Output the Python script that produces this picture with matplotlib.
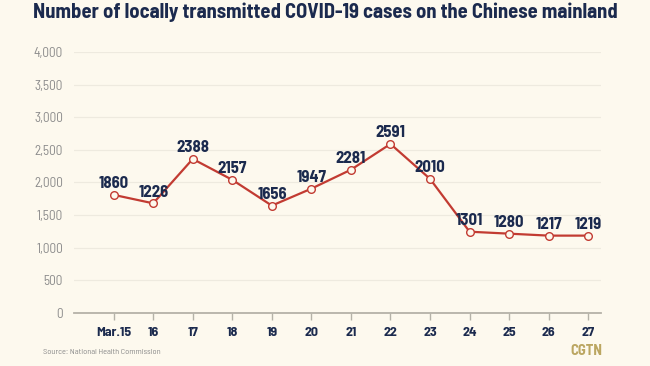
import matplotlib
matplotlib.use("Agg")
import matplotlib.pyplot as plt
import matplotlib.ticker as ticker
from matplotlib import font_manager as fm

# data
days = ["Mar.15", "16", "17", "18", "19", "20", "21", "22", "23", "24", "25", "26", "27"]
cases = [1810, 1680, 2360, 2040, 1645, 1905, 2195, 2590, 2055, 1245, 1215, 1185, 1185]
labels = ["1860", "1226", "2388", "2157", "1656", "1947", "2281", "2591", "2010",
          "1301", "1280", "1217", "1219"]

bg = "#FDF9EE"
navy = "#1B2A4E"
red = "#C23B32"

# pick a narrow DIN-like face if one is installed
have = set(f.name for f in fm.fontManager.ttflist)
narrow = [n for n in ["Barlow Semi Condensed", "Barlow Condensed", "Roboto Condensed",
                      "Archivo Narrow", "PT Sans Narrow", "Liberation Sans Narrow"] if n in have]
narrow = narrow[:1] + ["DejaVu Sans"]

fig = plt.figure(figsize=(6.5, 3.66), dpi=100, facecolor=bg)
ax = fig.add_axes([0.114, 0.145, 0.811, 0.713], facecolor=bg)

x = list(range(len(days)))
ax.plot(x, cases, color=red, lw=1.6, marker="o", ms=5.5,
        markerfacecolor=bg, markeredgecolor=red, markeredgewidth=1, zorder=3)

for i in x:
    ax.annotate(labels[i], (i, cases[i]), xytext=(0, 11), textcoords="offset pixels",
                ha="center", va="center", fontsize=12, fontweight="bold",
                color=navy, family=narrow, zorder=4)

ax.set_xlim(-1, 12.33)
ax.set_ylim(0, 4000)
ax.set_xticks(x)
ax.set_xticklabels(days)
ax.yaxis.set_major_locator(ticker.MultipleLocator(500))
ax.yaxis.set_major_formatter(ticker.FuncFormatter(lambda v, p: "{:,.0f}".format(v)))

ax.grid(axis="y", color="#EEEADF", lw=0.9)
ax.set_axisbelow(True)
for s in ["top", "right", "left"]:
    ax.spines[s].set_visible(False)
ax.spines["bottom"].set_color("#B5B2A8")
ax.spines["bottom"].set_linewidth(1.3)

ax.tick_params(axis="y", length=0, pad=8, labelsize=9.5, labelcolor="#8C8C8C")
ax.tick_params(axis="x", length=5, width=1, color="#B5B2A8", pad=5,
               labelsize=10, labelcolor=navy)
for t in ax.get_yticklabels():
    t.set_family(narrow)
for t in ax.get_xticklabels():
    t.set_family(narrow)
    t.set_fontweight("bold")

fig.text(0.5, 0.967, "Number of locally transmitted COVID-19 cases on the Chinese mainland",
         ha="center", va="center", fontsize=14.8, fontweight="bold", color=navy, family=narrow)
fig.text(0.066, 0.038, "Source: National Health Commission", ha="left", va="center",
         fontsize=6, color="#8C8C8C", family=narrow)
fig.text(0.927, 0.041, "CGTN", ha="right", va="center", fontsize=10.5,
         fontweight="bold", color="#BBA661", family=narrow)

fig.savefig("out.png", dpi=100, facecolor=bg)
